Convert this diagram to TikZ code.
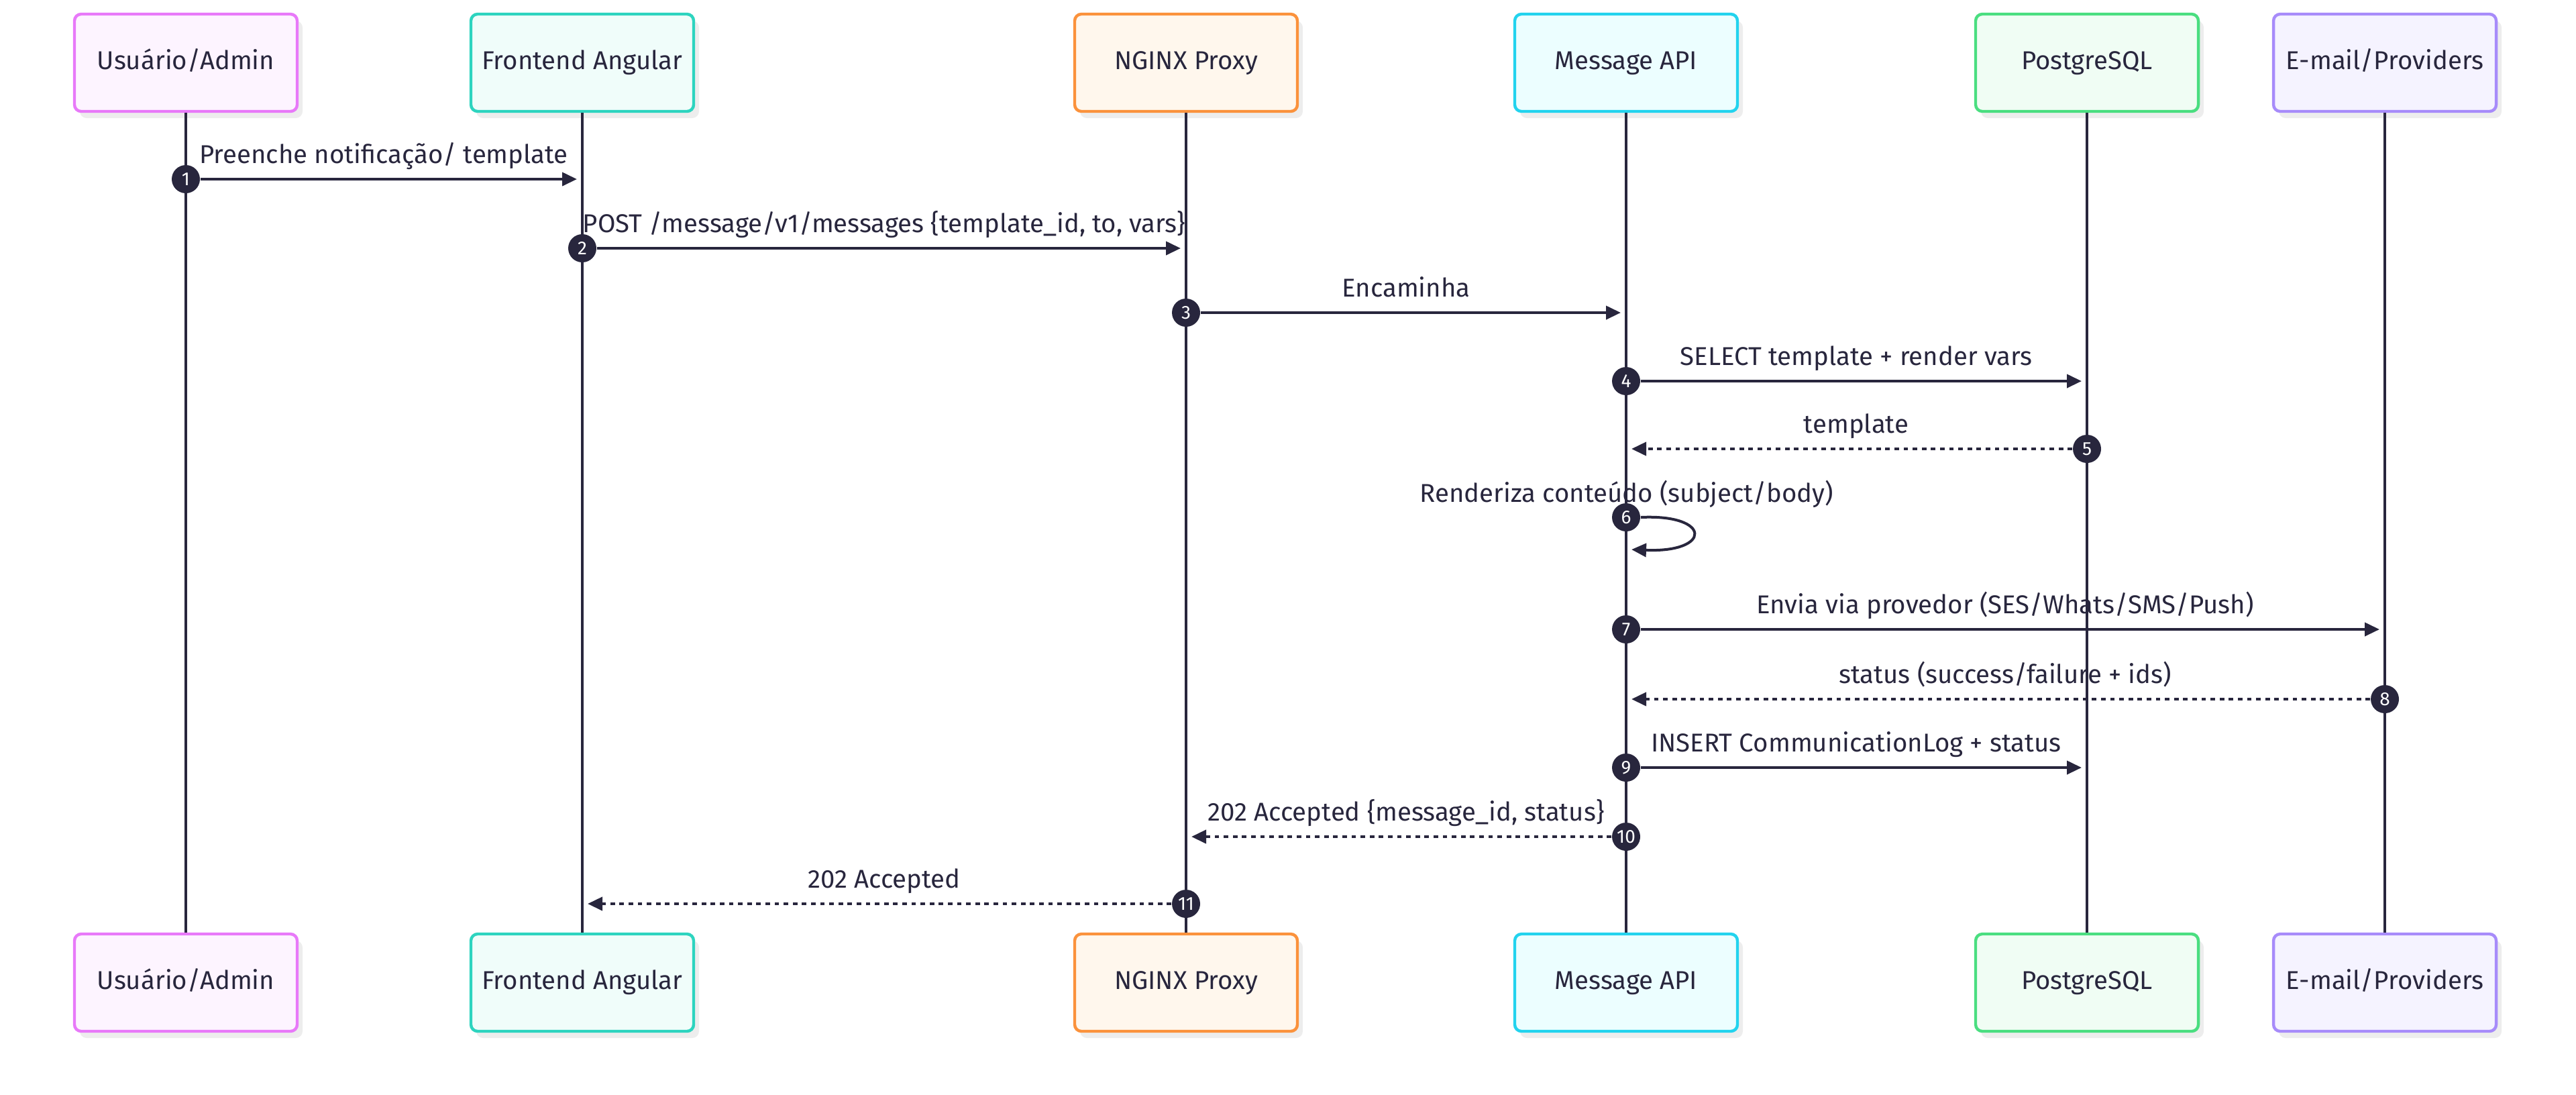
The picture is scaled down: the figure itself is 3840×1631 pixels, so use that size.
\documentclass[tikz,border=0pt]{standalone}
\usepackage{fontspec}
\setmainfont{Fira Sans}
\usetikzlibrary{arrows.meta,shadows}
\definecolor{ink}{HTML}{28263D}
\definecolor{shadowc}{HTML}{EDEDED}
\definecolor{uD}{HTML}{E879F9}\definecolor{uF}{HTML}{FDF4FF}
\definecolor{fD}{HTML}{2DD4BF}\definecolor{fF}{HTML}{F0FDFA}
\definecolor{nD}{HTML}{FB923C}\definecolor{nF}{HTML}{FFF7ED}
\definecolor{aD}{HTML}{22D3EE}\definecolor{aF}{HTML}{ECFEFF}
\definecolor{pD}{HTML}{4ADE80}\definecolor{pF}{HTML}{F0FDF4}
\definecolor{eD}{HTML}{A78BFA}\definecolor{eF}{HTML}{F5F3FF}
\begin{document}
\begin{tikzpicture}[x=0.25pt,y=-0.25pt,
  actor/.style={rectangle, rounded corners=2.5pt, line width=1.1pt,
    minimum width=83pt, minimum height=36.25pt, text height=7pt, text depth=2pt,
    font=\fontsize{9.6}{11}\selectfont, text=ink,
    drop shadow={shadow xshift=2pt, shadow yshift=-2.5pt, fill=shadowc, opacity=1}},
  life/.style={draw=ink, line width=0.85pt},
  msg/.style={draw=ink, line width=1pt, -{Triangle[length=5.5pt,width=5pt]}},
  reply/.style={msg, dash pattern=on 1.7pt off 1.7pt},
  num/.style={circle, fill=ink, text=white, inner sep=0pt, minimum size=10.5pt,
    font=\fontsize{7}{7}\selectfont},
  lbl/.style={anchor=base, text=ink, inner sep=0pt, font=\fontsize{9.6}{11}\selectfont}]
\useasboundingbox (0,0) rectangle (3840,1631);

% actors top
\node[actor, draw=uD, fill=uF] (uT) at (277,93.5) {Usuário/Admin};
\node[actor, draw=fD, fill=fF] (fT) at (868,93.5) {Frontend Angular};
\node[actor, draw=nD, fill=nF] (nT) at (1768,93.5) {NGINX Proxy};
\node[actor, draw=aD, fill=aF] (aT) at (2424,93.5) {Message API};
\node[actor, draw=pD, fill=pF] (pT) at (3111,93.5) {PostgreSQL};
\node[actor, draw=eD, fill=eF] (eT) at (3555,93.5) {E-mail/Providers};
% actors bottom
\node[actor, draw=uD, fill=uF] (uB) at (277,1464.5) {Usuário/Admin};
\node[actor, draw=fD, fill=fF] (fB) at (868,1464.5) {Frontend Angular};
\node[actor, draw=nD, fill=nF] (nB) at (1768,1464.5) {NGINX Proxy};
\node[actor, draw=aD, fill=aF] (aB) at (2424,1464.5) {Message API};
\node[actor, draw=pD, fill=pF] (pB) at (3111,1464.5) {PostgreSQL};
\node[actor, draw=eD, fill=eF] (eB) at (3555,1464.5) {E-mail/Providers};

% lifelines
\draw[life] (uT) -- (uB);
\draw[life] (fT) -- (fB);
\draw[life] (nT) -- (nB);
\draw[life] (aT) -- (aB);
\draw[life] (pT) -- (pB);
\draw[life] (eT) -- (eB);

% end coordinates
\coordinate (e1) at (860,267);
\coordinate (e2) at (1760,370);
\coordinate (e3) at (2416,466);
\coordinate (e4) at (3103,568);
\coordinate (e5) at (2432,669);
\coordinate (e6) at (2432,819);
\coordinate (e7) at (3547,938);
\coordinate (e8) at (2432,1042);
\coordinate (e9) at (3103,1144);
\coordinate (e10) at (1776,1247);
\coordinate (e11) at (876,1347);

% markers
\node[num] (n1) at (277,267) {1};
\node[num] (n2) at (868,370) {2};
\node[num] (n3) at (1768,466) {3};
\node[num] (n4) at (2424,568) {4};
\node[num] (n5) at (3111,669) {5};
\node[num] (n6) at (2424,771) {6};
\node[num] (n7) at (2424,938) {7};
\node[num] (n8) at (3555,1042) {8};
\node[num] (n9) at (2424,1144) {9};
\node[num] (n10) at (2424,1247) {10};
\node[num] (n11) at (1768,1347) {11};

% messages
\draw[msg] (n1) -- (e1);
\draw[msg] (n2) -- (e2);
\draw[msg] (n3) -- (e3);
\draw[msg] (n4) -- (e4);
\draw[reply] (n5) -- (e5);
\draw[msg] (n6.east) .. controls (2552,766) and (2552,824) .. (e6);
\draw[msg] (n7) -- (e7);
\draw[reply] (n8) -- (e8);
\draw[msg] (n9) -- (e9);
\draw[reply] (n10) -- (e10);
\draw[reply] (n11) -- (e11);

% labels
\node[lbl] (t1) at (572,243) {Preenche notificação/ template};
\node[lbl] (t2) at (1318,346) {POST /message/v1/messages \{template\_id, to, vars\}};
\node[lbl] (t3) at (2096,442) {Encaminha};
\node[lbl] (t4) at (2767,544) {SELECT template + render vars};
\node[lbl] (t5) at (2767,645) {template};
\node[lbl] (t6) at (2425,748) {Renderiza conteúdo (subject/body)};
\node[lbl] (t7) at (2989,914) {Envia via provedor (SES/Whats/SMS/Push)};
\node[lbl] (t8) at (2989,1018) {status (success/failure + ids)};
\node[lbl] (t9) at (2767,1120) {INSERT CommunicationLog + status};
\node[lbl] (t10) at (2096,1223) {202 Accepted \{message\_id, status\}};
\node[lbl] (t11) at (1318,1323) {202 Accepted};
\end{tikzpicture}
\end{document}
